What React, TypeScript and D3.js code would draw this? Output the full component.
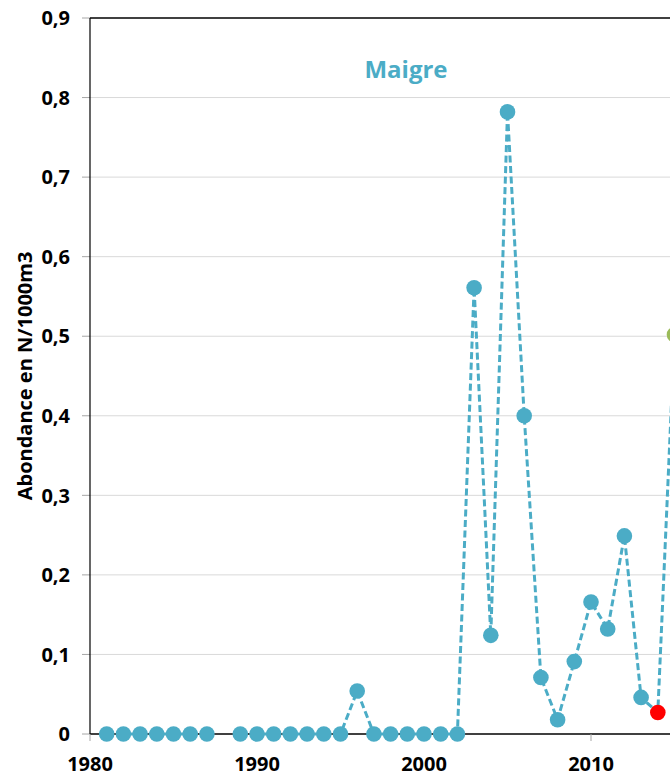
import React from "react";
import * as d3 from "d3";

const years: number[] = [
  1981, 1982, 1983, 1984, 1985, 1986, 1987, 1988, 1989, 1990,
  1991, 1992, 1993, 1994, 1995, 1996, 1997, 1998, 1999, 2000,
  2001, 2002, 2003, 2004, 2005, 2006, 2007, 2008, 2009, 2010,
  2011, 2012, 2013, 2014, 2015,
];
const abundance: (number | null)[] = [
  0, 0, 0, 0, 0, 0, 0, null, 0, 0,
  0, 0, 0, 0, 0, 0.054, 0, 0, 0, 0,
  0, 0, 0.561, 0.124, 0.782, 0.4, 0.071, 0.018, 0.091, 0.166,
  0.132, 0.249, 0.046, 0.027, 0.502,
];
const markerKind: string[] = [
  "n", "n", "n", "n", "n", "n", "n", "n", "n", "n",
  "n", "n", "n", "n", "n", "n", "n", "n", "n", "n",
  "n", "n", "n", "n", "n", "n", "n", "n", "n", "n",
  "n", "n", "n", "low", "high",
];
const xTicks: number[] = [1980, 1990, 2000, 2010, 2020];
const yTicks: number[] = [0, 0.1, 0.2, 0.3, 0.4, 0.5, 0.6, 0.7, 0.8, 0.9];
const yTickLabels: string[] = ["0", "0,1", "0,2", "0,3", "0,4", "0,5", "0,6", "0,7", "0,8", "0,9"];
const title = "Maigre";
const yTitle = "Abondance en N/1000m3";

const W = 670;
const H = 775;
const L = 90;
const T = 18;
const B = 734;
const R = 758;

const BLUE = "#4BACC6";
const FONT = "'Open Sans', 'Liberation Sans', sans-serif";

export default function App() {
  const x = d3.scaleLinear().domain([1980, 2020]).range([L, R]);
  const y = d3.scaleLinear().domain([0, 0.9]).range([B, T]);
  const pts = years.map((yr, i) => ({ yr, v: abundance[i], k: markerKind[i] }));
  const line = d3
    .line<{ yr: number; v: number | null }>()
    .defined((d) => d.v !== null)
    .x((d) => x(d.yr))
    .y((d) => y(d.v as number));
  const color = (k: string) => (k === "low" ? "#FF0000" : k === "high" ? "#9BBB59" : BLUE);

  return (
    <svg
      width={W}
      height={H}
      style={{ position: "absolute", left: 0, top: 0, background: "#fff" }}
      fontFamily={FONT}
    >
      {yTicks.map((t, i) => (
        <g key={"gy" + i}>
          {t > 0 && t < 0.9 && (
            <line x1={L} x2={W} y1={y(t)} y2={y(t)} stroke="#d9d9d9" strokeWidth={1} />
          )}
          <line x1={L - 8} x2={L} y1={y(t)} y2={y(t)} stroke="#a6a6a6" strokeWidth={1} />
          <text
            x={L - 20}
            y={y(t)}
            dy="0.36em"
            textAnchor="end"
            fontSize={20}
            fontWeight={700}
            fill="#000"
          >
            {yTickLabels[i]}
          </text>
        </g>
      ))}
      <line x1={L} x2={W} y1={T} y2={T} stroke="#000" strokeWidth={1.4} />
      <line x1={L} x2={L} y1={T} y2={B} stroke="#000" strokeWidth={1.2} />
      <line x1={L} x2={W} y1={B} y2={B} stroke="#000" strokeWidth={1.4} />
      {xTicks.map((t, i) => (
        <g key={"gx" + i}>
          <line x1={x(t)} x2={x(t)} y1={B} y2={B + 7} stroke="#a6a6a6" strokeWidth={1} />
          <text x={x(t)} y={771} textAnchor="middle" fontSize={20} fontWeight={700} fill="#000">
            {t}
          </text>
        </g>
      ))}
      <text
        transform={`translate(31.5, ${(T + B) / 2}) rotate(-90)`}
        textAnchor="middle"
        fontSize={20}
        fontWeight={700}
        fill="#000"
      >
        {yTitle}
      </text>
      <text x={406} y={78} textAnchor="middle" fontSize={24} fontWeight={700} fill={BLUE}>
        {title}
      </text>
      <path
        d={line(pts) || ""}
        fill="none"
        stroke={BLUE}
        strokeWidth={3}
        strokeDasharray="7 3.5"
      />
      {pts
        .filter((d) => d.v !== null)
        .map((d, i) => (
          <circle key={"p" + i} cx={x(d.yr)} cy={y(d.v as number)} r={7.8} fill={color(d.k)} />
        ))}
    </svg>
  );
}
